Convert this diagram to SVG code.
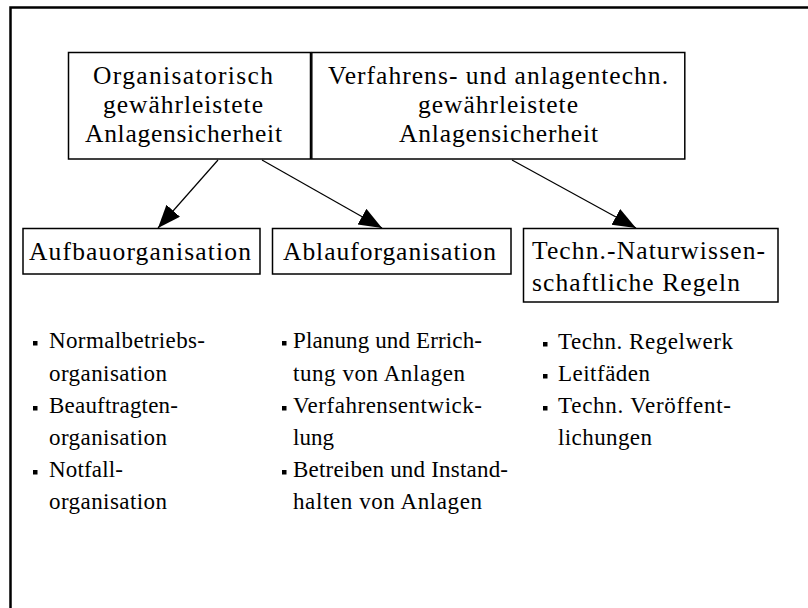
<svg xmlns="http://www.w3.org/2000/svg" width="808" height="608" viewBox="0 0 808 608">
<style>
.box{fill:#fff;stroke:#000;stroke-width:1.5}
.t{font-family:"Liberation Serif","Times New Roman",serif;font-size:25.5px;fill:#000}
.l{font-family:"Liberation Serif","Times New Roman",serif;font-size:23px;fill:#000}
.b{fill:#000}
.c{stroke:#000;stroke-width:1.2;fill:none}
</style>
<defs>
<marker id="ah" markerUnits="userSpaceOnUse" markerWidth="24" markerHeight="20" viewBox="0 0 24 20" refX="23" refY="9" orient="auto">
<path d="M0,0 L23,9 L0,18 z" fill="#000"/>
</marker>
</defs>
<rect width="808" height="608" fill="#fff"/>
<path d="M10.5,608 V7.5 H808" fill="none" stroke="#000" stroke-width="2.5"/>
<g id="n1">
<rect class="box" x="68.5" y="52.5" width="242" height="106.5"/>
<text class="t" x="93" y="84" textLength="180" lengthAdjust="spacing">Organisatorisch</text>
<text class="t" x="103" y="113" textLength="160" lengthAdjust="spacing">gewährleistete</text>
<text class="t" x="85" y="142" textLength="197" lengthAdjust="spacing">Anlagensicherheit</text>
</g>
<g id="n2">
<rect class="box" x="311.8" y="52.5" width="373" height="106.5"/>
<text class="t" x="328" y="84" textLength="340" lengthAdjust="spacing">Verfahrens- und anlagentechn.</text>
<text class="t" x="418" y="113" textLength="160" lengthAdjust="spacing">gewährleistete</text>
<text class="t" x="399" y="142" textLength="199" lengthAdjust="spacing">Anlagensicherheit</text>
</g>
<g id="n3">
<rect class="box" x="23" y="228.5" width="237" height="45.5"/>
<text class="t" x="29" y="260" textLength="222" lengthAdjust="spacing">Aufbauorganisation</text>
</g>
<g id="n4">
<rect class="box" x="272.5" y="228.5" width="238.5" height="45.5"/>
<text class="t" x="283" y="260" textLength="213" lengthAdjust="spacing">Ablauforganisation</text>
</g>
<g id="n5">
<rect class="box" x="523.5" y="228.5" width="254.5" height="73.5"/>
<text class="t" x="532" y="259" textLength="233" lengthAdjust="spacing">Techn.-Naturwissen-</text>
<text class="t" x="532" y="291" textLength="208" lengthAdjust="spacing">schaftliche Regeln</text>
</g>
<g id="connectors">
<line class="c" x1="218" y1="160" x2="158" y2="228" marker-end="url(#ah)"/>
<line class="c" x1="262" y1="160" x2="382" y2="228" marker-end="url(#ah)"/>
<line class="c" x1="512" y1="160" x2="636" y2="228" marker-end="url(#ah)"/>
</g>
<g id="list1">
<rect class="b" x="33" y="341" width="4.5" height="4.5"/>
<rect class="b" x="33" y="406" width="4.5" height="4.5"/>
<rect class="b" x="33" y="470" width="4.5" height="4.5"/>
<text class="l" x="49" y="348" textLength="156" lengthAdjust="spacing">Normalbetriebs-</text>
<text class="l" x="49" y="381" textLength="118" lengthAdjust="spacing">organisation</text>
<text class="l" x="49" y="413" textLength="129" lengthAdjust="spacing">Beauftragten-</text>
<text class="l" x="49" y="445" textLength="118" lengthAdjust="spacing">organisation</text>
<text class="l" x="49" y="477" textLength="74" lengthAdjust="spacing">Notfall-</text>
<text class="l" x="49" y="509" textLength="118" lengthAdjust="spacing">organisation</text>
</g>
<g id="list2">
<rect class="b" x="282" y="341" width="4.5" height="4.5"/>
<rect class="b" x="282" y="406" width="4.5" height="4.5"/>
<rect class="b" x="282" y="470" width="4.5" height="4.5"/>
<text class="l" x="293" y="348" textLength="189" lengthAdjust="spacing">Planung und Errich-</text>
<text class="l" x="293" y="381" textLength="172" lengthAdjust="spacing">tung von Anlagen</text>
<text class="l" x="293" y="413" textLength="189" lengthAdjust="spacing">Verfahrensentwick-</text>
<text class="l" x="293" y="445" textLength="41" lengthAdjust="spacing">lung</text>
<text class="l" x="293" y="477" textLength="215" lengthAdjust="spacing">Betreiben und Instand-</text>
<text class="l" x="293" y="509" textLength="189" lengthAdjust="spacing">halten von Anlagen</text>
</g>
<g id="list3">
<rect class="b" x="543" y="342" width="4.5" height="4.5"/>
<rect class="b" x="543" y="374" width="4.5" height="4.5"/>
<rect class="b" x="543" y="406" width="4.5" height="4.5"/>
<text class="l" x="558" y="349" textLength="175" lengthAdjust="spacing">Techn. Regelwerk</text>
<text class="l" x="558" y="381" textLength="92" lengthAdjust="spacing">Leitfäden</text>
<text class="l" x="558" y="413" textLength="173" lengthAdjust="spacing">Techn. Veröffent-</text>
<text class="l" x="558" y="445" textLength="94" lengthAdjust="spacing">lichungen</text>
</g>
</svg>
